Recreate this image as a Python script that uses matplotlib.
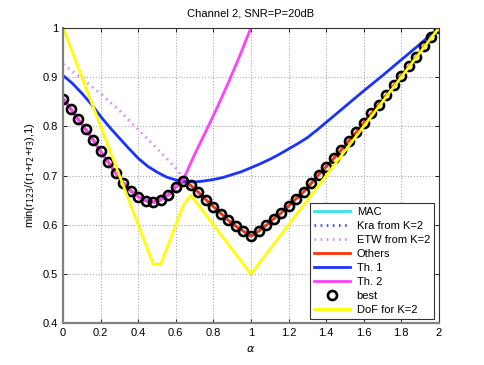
import numpy as np
import matplotlib
matplotlib.use('Agg')
import matplotlib.pyplot as plt

plt.rcParams['font.family'] = ['Liberation Sans', 'DejaVu Sans']

# alpha grid of the "best" markers (step 0.04)
alpha = [0.00, 0.04, 0.08, 0.12, 0.16, 0.20, 0.24, 0.28, 0.32, 0.36,
         0.40, 0.44, 0.48, 0.52, 0.56, 0.60, 0.64, 0.68, 0.72, 0.76,
         0.80, 0.84, 0.88, 0.92, 0.96, 1.00, 1.04, 1.08, 1.12, 1.16,
         1.20, 1.24, 1.28, 1.32, 1.36, 1.40, 1.44, 1.48, 1.52, 1.56,
         1.60, 1.64, 1.68, 1.72, 1.76, 1.80, 1.84, 1.88, 1.92, 1.96, 2.00]
best = [0.856, 0.836, 0.814, 0.794, 0.772, 0.749, 0.727, 0.705, 0.685, 0.669,
        0.657, 0.649, 0.646, 0.651, 0.661, 0.677, 0.688, 0.680, 0.666, 0.651,
        0.637, 0.623, 0.609, 0.597, 0.587, 0.577, 0.587, 0.599, 0.612, 0.624,
        0.638, 0.653, 0.667, 0.684, 0.702, 0.718, 0.735, 0.752, 0.770, 0.788,
        0.807, 0.826, 0.844, 0.863, 0.883, 0.903, 0.922, 0.941, 0.962, 0.981, 1.000]

# curves that sit underneath the "best" markers
mac = best
kra = best
others = best

# Th. 2 : follows best up to 0.64, then climbs out of the plot
alpha_th2 = [0.00, 0.04, 0.08, 0.12, 0.16, 0.20, 0.24, 0.28, 0.32, 0.36,
             0.40, 0.44, 0.48, 0.52, 0.56, 0.60, 0.64, 0.70, 0.76, 0.82, 0.88, 0.94, 1.00]
th2 = [0.856, 0.836, 0.814, 0.794, 0.772, 0.749, 0.727, 0.705, 0.685, 0.669,
       0.657, 0.649, 0.646, 0.651, 0.661, 0.677, 0.692, 0.743, 0.790, 0.838, 0.889, 0.943, 1.000]

# Th. 1
alpha_th1 = [0.00, 0.05, 0.10, 0.15, 0.20, 0.25, 0.30, 0.35, 0.40, 0.45,
             0.50, 0.55, 0.60, 0.65, 0.70, 0.75, 0.80, 0.85, 0.90, 0.95,
             1.00, 1.05, 1.10, 1.15, 1.20, 1.25, 1.30, 1.35, 1.40, 1.45,
             1.50, 1.60, 1.70, 1.80, 1.90, 2.00]
th1 = [0.903, 0.887, 0.867, 0.845, 0.820, 0.797, 0.776, 0.755, 0.735, 0.719,
       0.707, 0.697, 0.691, 0.688, 0.687, 0.689, 0.692, 0.696, 0.702, 0.708,
       0.716, 0.724, 0.733, 0.743, 0.754, 0.765, 0.777, 0.792, 0.808, 0.824,
       0.840, 0.872, 0.903, 0.935, 0.967, 1.000]

# ETW from K=2
alpha_etw = [0.0, 0.1, 0.2, 0.3, 0.4, 0.5, 0.6, 0.64]
etw = [0.926, 0.897, 0.866, 0.832, 0.793, 0.755, 0.715, 0.695]

# DoF for K=2 (W curve, sampled)
alpha_dof = [0.0, 0.48, 0.52, 0.64, 0.68, 1.0, 2.0]
dof = [1.0, 0.52, 0.52, 0.64, 0.66, 0.50, 1.0]

fig = plt.figure(figsize=(4.85, 3.65), dpi=100)
ax = fig.add_axes([0.130, 0.114, 0.775, 0.810])

lw = 2.0
dots = (0, (0.6, 1.6))
ax.plot(alpha, mac, color='#33e6e6', linewidth=lw, label='MAC')
ax.plot(alpha, kra, color='#4d4dff', linewidth=lw, linestyle=dots, label='Kra from K=2')
ax.plot(alpha_etw, etw, color='#dd88ff', linewidth=lw, linestyle=dots, label='ETW from K=2')
ax.plot(alpha, others, color='#ff3311', linewidth=lw, label='Others')
ax.plot(alpha_th1, th1, color='#1a33ff', linewidth=lw, label='Th. 1')
ax.plot(alpha_th2, th2, color='#ff40ff', linewidth=lw, label='Th. 2')
ax.plot(alpha, best, linestyle='none', marker='o', markersize=6.5, markerfacecolor='none',
        markeredgecolor='black', markeredgewidth=1.9, label='best')
ax.plot(alpha_dof, dof, color='#ffff00', linewidth=lw, label='DoF for K=2')

ax.set_xlim(0, 2)
ax.set_ylim(0.4, 1)
ax.set_xticks(np.arange(0, 2.01, 0.2))
ax.set_xticklabels(['0', '0.2', '0.4', '0.6', '0.8', '1', '1.2', '1.4', '1.6', '1.8', '2'])
ax.set_yticks(np.arange(0.4, 1.01, 0.1))
ax.set_yticklabels(['0.4', '0.5', '0.6', '0.7', '0.8', '0.9', '1'])
ax.tick_params(direction='in', top=True, right=True, labelsize=8, length=3, width=0.6)
ax.grid(True, linestyle=':', color='#aaaaaa', linewidth=0.8)

for side in ['left', 'bottom']:
    ax.spines[side].set_color('#808080')
    ax.spines[side].set_linewidth(1.6)
for side in ['top', 'right']:
    ax.spines[side].set_color('#333333')
    ax.spines[side].set_linewidth(0.8)

ax.set_title('Channel 2, SNR=P=20dB', fontsize=8, pad=8)
ax.set_xlabel(r'$\alpha$', fontsize=8)
ax.set_ylabel(r'min(r$_{123}$/(r$_1$+r$_2$+r$_3$),1)', fontsize=8)

leg = ax.legend(loc='lower right', fontsize=8, handlelength=3.2, borderaxespad=0.4,
                labelspacing=0.35, fancybox=False, framealpha=1, borderpad=0.4,
                handletextpad=0.6)
leg.get_frame().set_edgecolor('#333333')
leg.get_frame().set_linewidth(0.8)

fig.savefig('out.png', dpi=100)
